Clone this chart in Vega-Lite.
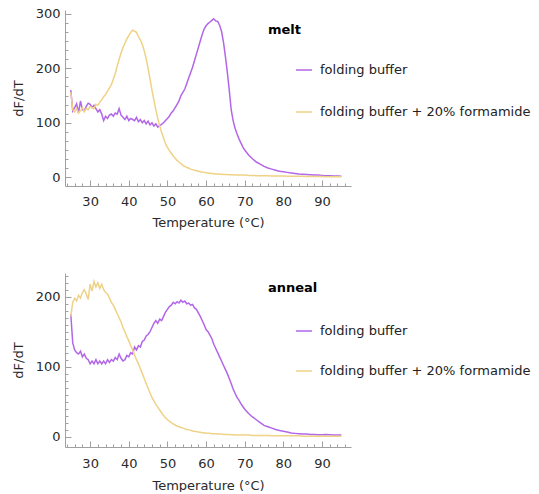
{
  "$schema": "https://vega.github.io/schema/vega-lite/v6.json",
  "padding": {"left": 12, "top": 7, "right": 0, "bottom": 0},
  "spacing": 44,
  "config": {
    "view": {"stroke": null},
    "font": "DejaVu Sans",
    "axis": {
      "grid": false,
      "domainColor": "#a0a0a0",
      "tickColor": "#a0a0a0",
      "labelFontSize": 13,
      "titleFontSize": 13,
      "labelColor": "#2a2a2a",
      "titleColor": "#2a2a2a",
      "titleFontWeight": "normal",
      "labelOverlap": false,
      "labelFlush": false
    },
    "legend": {
      "orient": "none",
      "padding": 0,
      "titleFontSize": 13,
      "titleFontWeight": "bold",
      "titleColor": "#000000",
      "labelFontSize": 13,
      "labelColor": "#222222",
      "labelLimit": 0,
      "symbolType": "stroke",
      "symbolSize": 256,
      "symbolStrokeWidth": 2,
      "symbolOffset": 27,
      "labelOffset": 7
    },
    "line": {"strokeWidth": 1.5}
  },
  "resolve": {"scale": {"color": "independent"}, "legend": {"color": "independent"}},
  "datasets": {
    "mfb": [
      {"T":25,"v":160},{"T":25.5,"v":122},{"T":26,"v":128},{"T":26.5,"v":135},{"T":27,"v":118},{"T":27.5,"v":140},{"T":28,"v":124},{"T":28.5,"v":122},{"T":29,"v":130},{"T":29.5,"v":136},
      {"T":30,"v":134},{"T":30.5,"v":128},{"T":31,"v":132},{"T":31.5,"v":126},{"T":32,"v":120},{"T":32.5,"v":124},{"T":33,"v":116},{"T":33.5,"v":104},{"T":34,"v":112},{"T":34.5,"v":108},
      {"T":35,"v":114},{"T":35.5,"v":116},{"T":36,"v":112},{"T":36.5,"v":118},{"T":37,"v":116},{"T":37.5,"v":126},{"T":38,"v":114},{"T":38.5,"v":110},{"T":39,"v":106},{"T":39.5,"v":112},
      {"T":40,"v":104},{"T":40.5,"v":108},{"T":41,"v":106},{"T":41.5,"v":104},{"T":42,"v":110},{"T":42.5,"v":102},{"T":43,"v":106},{"T":43.5,"v":100},{"T":44,"v":104},{"T":44.5,"v":98},
      {"T":45,"v":103},{"T":45.5,"v":96},{"T":46,"v":100},{"T":46.5,"v":94},{"T":47,"v":98},{"T":47.5,"v":92},{"T":48,"v":95},{"T":48.5,"v":97},{"T":49,"v":100},{"T":49.5,"v":104},
      {"T":50,"v":108},{"T":50.5,"v":112},{"T":51,"v":118},{"T":51.5,"v":122},{"T":52,"v":128},{"T":52.5,"v":134},{"T":53,"v":140},{"T":53.5,"v":150},{"T":54,"v":156},{"T":54.5,"v":162},
      {"T":55,"v":172},{"T":55.5,"v":182},{"T":56,"v":192},{"T":56.5,"v":202},{"T":57,"v":214},{"T":57.5,"v":226},{"T":58,"v":238},{"T":58.5,"v":250},{"T":59,"v":262},{"T":59.5,"v":272},
      {"T":60,"v":278},{"T":60.5,"v":282},{"T":61,"v":285},{"T":61.5,"v":288},{"T":62,"v":291},{"T":62.5,"v":287},{"T":63,"v":286},{"T":63.5,"v":279},{"T":64,"v":268},{"T":64.5,"v":248},
      {"T":65,"v":222},{"T":65.5,"v":193},{"T":66,"v":160},{"T":66.5,"v":124},{"T":67,"v":104},{"T":67.5,"v":90},{"T":68,"v":80},{"T":68.5,"v":71},{"T":69,"v":63},{"T":69.5,"v":56},
      {"T":70,"v":50},{"T":71,"v":41},{"T":72,"v":34},{"T":73,"v":28},{"T":74,"v":24},{"T":75,"v":20},{"T":76,"v":17},{"T":77,"v":15},{"T":78,"v":13},{"T":79,"v":11},
      {"T":80,"v":10},{"T":81,"v":9},{"T":82,"v":8},{"T":83,"v":7},{"T":84,"v":6},{"T":85,"v":5.5},{"T":86,"v":5},{"T":87,"v":4.5},{"T":88,"v":4},{"T":89,"v":4},
      {"T":90,"v":3.5},{"T":91,"v":3},{"T":92,"v":3},{"T":93,"v":2.5},{"T":94,"v":2.5},{"T":95,"v":2}
    ],
    "mfa": [
      {"T":25,"v":156},{"T":25.5,"v":124},{"T":26,"v":120},{"T":26.5,"v":126},{"T":27,"v":118},{"T":27.5,"v":122},{"T":28,"v":128},{"T":28.5,"v":120},{"T":29,"v":126},{"T":29.5,"v":124},
      {"T":30,"v":130},{"T":30.5,"v":128},{"T":31,"v":126},{"T":31.5,"v":134},{"T":32,"v":132},{"T":32.5,"v":138},{"T":33,"v":142},{"T":33.5,"v":148},{"T":34,"v":152},{"T":34.5,"v":158},
      {"T":35,"v":164},{"T":35.5,"v":170},{"T":36,"v":180},{"T":36.5,"v":190},{"T":37,"v":204},{"T":37.5,"v":216},{"T":38,"v":228},{"T":38.5,"v":238},{"T":39,"v":246},{"T":39.5,"v":254},
      {"T":40,"v":260},{"T":40.5,"v":266},{"T":41,"v":270},{"T":41.5,"v":268},{"T":42,"v":266},{"T":42.5,"v":258},{"T":43,"v":252},{"T":43.5,"v":244},{"T":44,"v":232},{"T":44.5,"v":218},
      {"T":45,"v":200},{"T":45.5,"v":180},{"T":46,"v":160},{"T":46.5,"v":142},{"T":47,"v":124},{"T":47.5,"v":108},{"T":48,"v":94},{"T":48.5,"v":82},{"T":49,"v":72},{"T":49.5,"v":62},
      {"T":50,"v":55},{"T":50.5,"v":49},{"T":51,"v":44},{"T":51.5,"v":39},{"T":52,"v":35},{"T":52.5,"v":31},{"T":53,"v":28},{"T":53.5,"v":25},{"T":54,"v":22},{"T":54.5,"v":20},
      {"T":55,"v":18},{"T":55.5,"v":17},{"T":56,"v":15},{"T":56.5,"v":14},{"T":57,"v":13},{"T":57.5,"v":12},{"T":58,"v":11},{"T":58.5,"v":10},{"T":59,"v":9.5},{"T":59.5,"v":9},
      {"T":60,"v":8.5},{"T":60.5,"v":8},{"T":61,"v":7.5},{"T":61.5,"v":7},{"T":62,"v":6.5},{"T":62.5,"v":6},{"T":63,"v":6},{"T":63.5,"v":5.5},{"T":64,"v":5.5},{"T":64.5,"v":5},
      {"T":65,"v":5},{"T":65.5,"v":5},{"T":66,"v":4.5},{"T":66.5,"v":4.5},{"T":67,"v":4.5},{"T":67.5,"v":4},{"T":68,"v":4},{"T":68.5,"v":4},{"T":69,"v":4},{"T":69.5,"v":4},
      {"T":70,"v":4},{"T":71,"v":3.5},{"T":72,"v":3.5},{"T":73,"v":3},{"T":74,"v":3},{"T":75,"v":3},{"T":76,"v":3},{"T":77,"v":2.5},{"T":78,"v":2.5},{"T":79,"v":2.5},
      {"T":80,"v":2.5},{"T":81,"v":2},{"T":82,"v":2},{"T":83,"v":2},{"T":84,"v":2},{"T":85,"v":2},{"T":86,"v":1.5},{"T":87,"v":1.5},{"T":88,"v":1.5},{"T":89,"v":1.5},
      {"T":90,"v":1.5},{"T":91,"v":1},{"T":92,"v":1},{"T":93,"v":1},{"T":94,"v":1},{"T":95,"v":1}
    ],
    "afb": [
      {"T":25,"v":175},{"T":25.5,"v":134},{"T":26,"v":124},{"T":26.5,"v":120},{"T":27,"v":118},{"T":27.5,"v":122},{"T":28,"v":114},{"T":28.5,"v":118},{"T":29,"v":112},{"T":29.5,"v":110},
      {"T":30,"v":104},{"T":30.5,"v":108},{"T":31,"v":104},{"T":31.5,"v":110},{"T":32,"v":104},{"T":32.5,"v":108},{"T":33,"v":104},{"T":33.5,"v":108},{"T":34,"v":104},{"T":34.5,"v":110},
      {"T":35,"v":106},{"T":35.5,"v":110},{"T":36,"v":108},{"T":36.5,"v":113},{"T":37,"v":110},{"T":37.5,"v":118},{"T":38,"v":112},{"T":38.5,"v":108},{"T":39,"v":110},{"T":39.5,"v":116},
      {"T":40,"v":114},{"T":40.5,"v":120},{"T":41,"v":118},{"T":41.5,"v":128},{"T":42,"v":124},{"T":42.5,"v":130},{"T":43,"v":128},{"T":43.5,"v":136},{"T":44,"v":138},{"T":44.5,"v":144},
      {"T":45,"v":146},{"T":45.5,"v":150},{"T":46,"v":156},{"T":46.5,"v":162},{"T":47,"v":166},{"T":47.5,"v":162},{"T":48,"v":168},{"T":48.5,"v":166},{"T":49,"v":172},{"T":49.5,"v":178},
      {"T":50,"v":182},{"T":50.5,"v":186},{"T":51,"v":188},{"T":51.5,"v":192},{"T":52,"v":190},{"T":52.5,"v":193},{"T":53,"v":191},{"T":53.5,"v":195},{"T":54,"v":192},{"T":54.5,"v":194},
      {"T":55,"v":190},{"T":55.5,"v":191},{"T":56,"v":188},{"T":56.5,"v":189},{"T":57,"v":184},{"T":57.5,"v":182},{"T":58,"v":177},{"T":58.5,"v":172},{"T":59,"v":166},{"T":59.5,"v":160},
      {"T":60,"v":153},{"T":60.5,"v":150},{"T":61,"v":145},{"T":61.5,"v":140},{"T":62,"v":132},{"T":62.5,"v":126},{"T":63,"v":120},{"T":63.5,"v":114},{"T":64,"v":108},{"T":64.5,"v":102},
      {"T":65,"v":96},{"T":65.5,"v":90},{"T":66,"v":83},{"T":66.5,"v":76},{"T":67,"v":68},{"T":67.5,"v":62},{"T":68,"v":56},{"T":68.5,"v":52},{"T":69,"v":47},{"T":69.5,"v":43},
      {"T":70,"v":39},{"T":71,"v":33},{"T":72,"v":28},{"T":73,"v":24},{"T":74,"v":20},{"T":75,"v":16},{"T":76,"v":14},{"T":77,"v":12},{"T":78,"v":10},{"T":79,"v":8.5},
      {"T":80,"v":7.5},{"T":81,"v":6.5},{"T":82,"v":5},{"T":83,"v":4.5},{"T":84,"v":4},{"T":85,"v":3.5},{"T":86,"v":3.5},{"T":87,"v":3},{"T":88,"v":3},{"T":89,"v":2.5},
      {"T":90,"v":2.5},{"T":91,"v":3},{"T":92,"v":2.5},{"T":93,"v":2},{"T":94,"v":2},{"T":95,"v":2}
    ],
    "afa": [
      {"T":25,"v":172},{"T":25.5,"v":192},{"T":26,"v":198},{"T":26.5,"v":194},{"T":27,"v":202},{"T":27.5,"v":198},{"T":28,"v":206},{"T":28.5,"v":210},{"T":29,"v":204},{"T":29.5,"v":196},
      {"T":30,"v":218},{"T":30.5,"v":208},{"T":31,"v":222},{"T":31.5,"v":214},{"T":32,"v":220},{"T":32.5,"v":212},{"T":33,"v":218},{"T":33.5,"v":210},{"T":34,"v":206},{"T":34.5,"v":204},
      {"T":35,"v":198},{"T":35.5,"v":192},{"T":36,"v":188},{"T":36.5,"v":182},{"T":37,"v":176},{"T":37.5,"v":170},{"T":38,"v":164},{"T":38.5,"v":156},{"T":39,"v":150},{"T":39.5,"v":143},
      {"T":40,"v":137},{"T":40.5,"v":130},{"T":41,"v":124},{"T":41.5,"v":117},{"T":42,"v":110},{"T":42.5,"v":104},{"T":43,"v":97},{"T":43.5,"v":90},{"T":44,"v":83},{"T":44.5,"v":76},
      {"T":45,"v":69},{"T":45.5,"v":62},{"T":46,"v":56},{"T":46.5,"v":51},{"T":47,"v":46},{"T":47.5,"v":42},{"T":48,"v":38},{"T":48.5,"v":34},{"T":49,"v":30},{"T":49.5,"v":27},
      {"T":50,"v":24},{"T":50.5,"v":22},{"T":51,"v":20},{"T":51.5,"v":18},{"T":52,"v":16.5},{"T":52.5,"v":15},{"T":53,"v":14},{"T":53.5,"v":13},{"T":54,"v":12},{"T":54.5,"v":11},
      {"T":55,"v":10},{"T":55.5,"v":9.5},{"T":56,"v":9},{"T":56.5,"v":8},{"T":57,"v":7.5},{"T":57.5,"v":7},{"T":58,"v":6.5},{"T":58.5,"v":6},{"T":59,"v":5.5},{"T":59.5,"v":5},
      {"T":60,"v":5},{"T":60.5,"v":4.5},{"T":61,"v":4.5},{"T":61.5,"v":4},{"T":62,"v":4},{"T":62.5,"v":4},{"T":63,"v":3.5},{"T":63.5,"v":3.5},{"T":64,"v":3.5},{"T":64.5,"v":3},
      {"T":65,"v":3},{"T":65.5,"v":3},{"T":66,"v":3},{"T":66.5,"v":2.5},{"T":67,"v":2.5},{"T":67.5,"v":2.5},{"T":68,"v":2},{"T":68.5,"v":2},{"T":69,"v":2},{"T":69.5,"v":2},
      {"T":70,"v":2},{"T":71,"v":2},{"T":72,"v":1.5},{"T":73,"v":1.5},{"T":74,"v":1.5},{"T":75,"v":1.5},{"T":76,"v":1.5},{"T":77,"v":1},{"T":78,"v":1},{"T":79,"v":1},
      {"T":80,"v":1},{"T":81,"v":1},{"T":82,"v":1},{"T":83,"v":1},{"T":84,"v":1},{"T":85,"v":0.5},{"T":86,"v":0.5},{"T":87,"v":0.5},{"T":88,"v":0.5},{"T":89,"v":0.5},
      {"T":90,"v":0.5},{"T":91,"v":0.5},{"T":92,"v":0.5},{"T":93,"v":0.5},{"T":94,"v":0.5},{"T":95,"v":0.5}
    ]
  },
  "vconcat": [
    {
      "width": 286,
      "height": 176,
      "resolve": {"scale": {"x": "independent", "y": "independent"}, "axis": {"x": "independent", "y": "independent"}},
      "layer": [
        {
          "data": {"name": "mfb"},
          "mark": {"type": "line"},
          "encoding": {
            "x": {
              "field": "T", "type": "quantitative",
              "scale": {"domain": [23.5, 97.5], "nice": false, "zero": false},
              "axis": {"title": "Temperature (°C)", "values": [30,40,50,60,70,80,90], "ticks": false, "tickSize": 0, "labelPadding": 9, "titlePadding": 8}
            },
            "y": {
              "field": "v", "type": "quantitative",
              "scale": {"domain": [-16, 307], "nice": false, "zero": false},
              "axis": {"title": "dF/dT", "values": [0,100,200,300], "ticks": false, "tickSize": 0, "labelPadding": 5, "titlePadding": 10}
            },
            "color": {
              "datum": "folding buffer",
              "scale": {"domain": ["folding buffer", "folding buffer + 20% formamide"], "range": ["#b266e8", "#eed286"]},
              "legend": {"title": "melt", "legendX": 203, "legendY": 14, "titlePadding": 24, "rowPadding": 26}
            }
          }
        },
        {
          "data": {"name": "mfa"},
          "mark": {"type": "line"},
          "encoding": {
            "x": {
              "field": "T", "type": "quantitative",
              "scale": {"domain": [23.5, 97.5], "nice": false, "zero": false},
              "axis": {
                "orient": "top", "offset": -176, "title": null, "labels": false, "domain": false,
                "values": [24,26,28,30,32,34,36,38,40,42,44,46,48,50,52,54,56,58,60,62,64,66,68,70,72,74,76,78,80,82,84,86,88,90,92,94,96],
                "tickSize": {"condition": {"test": "datum.value % 10 === 0", "value": 6}, "value": 3}
              }
            },
            "y": {
              "field": "v", "type": "quantitative",
              "scale": {"domain": [-16, 307], "nice": false, "zero": false},
              "axis": {
                "orient": "right", "offset": -286, "title": null, "labels": false, "domain": false,
                "values": [0,16.667,33.333,50,66.667,83.333,100,116.667,133.333,150,166.667,183.333,200,216.667,233.333,250,266.667,283.333,300],
                "tickSize": {"condition": {"test": "datum.value % 100 === 0", "value": 6}, "value": 3}
              }
            },
            "color": {
              "datum": "folding buffer + 20% formamide",
              "scale": {"domain": ["folding buffer", "folding buffer + 20% formamide"], "range": ["#b266e8", "#eed286"]},
              "legend": {"title": "melt", "legendX": 203, "legendY": 14, "titlePadding": 24, "rowPadding": 26}
            }
          }
        }
      ]
    },
    {
      "width": 286,
      "height": 174,
      "resolve": {"scale": {"x": "independent", "y": "independent"}, "axis": {"x": "independent", "y": "independent"}},
      "layer": [
        {
          "data": {"name": "afb"},
          "mark": {"type": "line"},
          "encoding": {
            "x": {
              "field": "T", "type": "quantitative",
              "scale": {"domain": [23.5, 97.5], "nice": false, "zero": false},
              "axis": {"title": "Temperature (°C)", "values": [30,40,50,60,70,80,90], "ticks": false, "tickSize": 0, "labelPadding": 10, "titlePadding": 9}
            },
            "y": {
              "field": "v", "type": "quantitative",
              "scale": {"domain": [-15, 234], "nice": false, "zero": false},
              "axis": {"title": "dF/dT", "values": [0,100,200], "ticks": false, "tickSize": 0, "labelPadding": 5, "titlePadding": 10}
            },
            "color": {
              "datum": "folding buffer",
              "scale": {"domain": ["folding buffer", "folding buffer + 20% formamide"], "range": ["#b266e8", "#eed286"]},
              "legend": {"title": "anneal", "legendX": 203, "legendY": 9, "titlePadding": 27, "rowPadding": 24}
            }
          }
        },
        {
          "data": {"name": "afa"},
          "mark": {"type": "line"},
          "encoding": {
            "x": {
              "field": "T", "type": "quantitative",
              "scale": {"domain": [23.5, 97.5], "nice": false, "zero": false},
              "axis": {
                "orient": "top", "offset": -174, "title": null, "labels": false, "domain": false,
                "values": [24,26,28,30,32,34,36,38,40,42,44,46,48,50,52,54,56,58,60,62,64,66,68,70,72,74,76,78,80,82,84,86,88,90,92,94,96],
                "tickSize": {"condition": {"test": "datum.value % 10 === 0", "value": 6}, "value": 3}
              }
            },
            "y": {
              "field": "v", "type": "quantitative",
              "scale": {"domain": [-15, 234], "nice": false, "zero": false},
              "axis": {
                "orient": "right", "offset": -286, "title": null, "labels": false, "domain": false,
                "values": [0,10,20,30,40,50,60,70,80,90,100,110,120,130,140,150,160,170,180,190,200,210,220,230],
                "tickSize": {"condition": {"test": "datum.value % 100 === 0", "value": 6}, "value": 3}
              }
            },
            "color": {
              "datum": "folding buffer + 20% formamide",
              "scale": {"domain": ["folding buffer", "folding buffer + 20% formamide"], "range": ["#b266e8", "#eed286"]},
              "legend": {"title": "anneal", "legendX": 203, "legendY": 9, "titlePadding": 27, "rowPadding": 24}
            }
          }
        }
      ]
    }
  ]
}
